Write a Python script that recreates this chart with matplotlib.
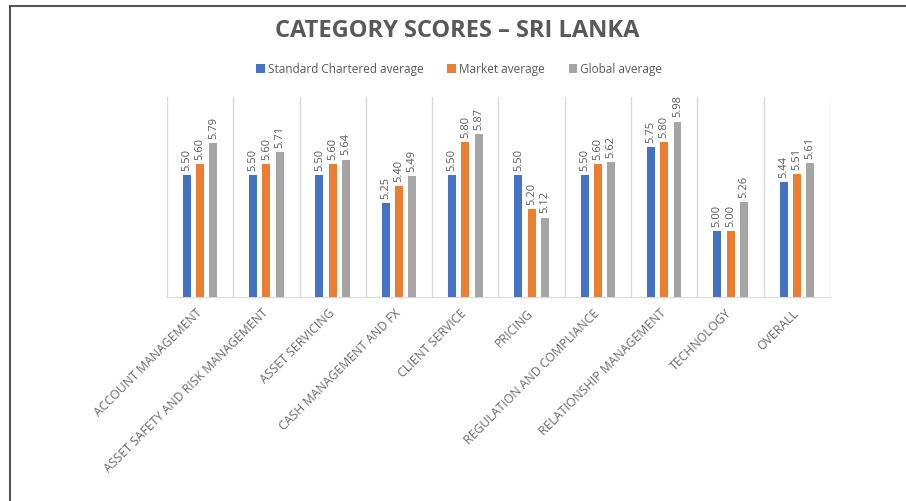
import matplotlib.pyplot as plt
import numpy as np
from matplotlib.lines import Line2D
from matplotlib.transforms import ScaledTranslation

# Category scores - Sri Lanka
categories = ['ACCOUNT MANAGEMENT', 'ASSET SAFETY AND RISK MANAGEMENT', 'ASSET SERVICING',
              'CASH MANAGEMENT AND FX', 'CLIENT SERVICE', 'PRICING',
              'REGULATION AND COMPLIANCE', 'RELATIONSHIP MANAGEMENT', 'TECHNOLOGY', 'OVERALL']
sc_avg = [5.50, 5.50, 5.50, 5.25, 5.50, 5.50, 5.50, 5.75, 5.00, 5.44]
market_avg = [5.60, 5.60, 5.60, 5.40, 5.80, 5.20, 5.60, 5.80, 5.00, 5.51]
global_avg = [5.79, 5.71, 5.64, 5.49, 5.87, 5.12, 5.62, 5.98, 5.26, 5.61]

series = [('Standard Chartered average', sc_avg, '#4472C4'),
          ('Market average', market_avg, '#ED7D31'),
          ('Global average', global_avg, '#A5A5A5')]

plt.rcParams['font.family'] = ['Open Sans', 'DejaVu Sans']

fig = plt.figure(figsize=(9.06, 5.01), dpi=100)
ax = fig.add_axes([0.1843, 0.4072, 0.7318, 0.3992])

x = np.arange(len(categories))
offsets = [-0.2, 0.0, 0.2]
width = 0.12
for (name, vals, col), off in zip(series, offsets):
    bars = ax.bar(x + off, vals, width, color=col, label=name, zorder=3)
    for b, v in zip(bars, vals):
        ax.annotate(f'{v:.2f}', (b.get_x() + b.get_width() / 2, v),
                    xytext=(0, 3), textcoords='offset points',
                    rotation=90, ha='center', va='bottom',
                    fontsize=8, color='#595959')

ax.set_xlim(-0.5, len(categories) - 0.5)
ax.set_ylim(4.41, 6.2)

# category separators
for b in np.arange(-0.5, len(categories), 1.0):
    ax.axvline(b, color='#D9D9D9', lw=1, zorder=1)

for s in ['top', 'right', 'left']:
    ax.spines[s].set_visible(False)
ax.spines['bottom'].set_color('#D9D9D9')
ax.set_yticks([])
ax.set_xticks(x)
ax.set_xticklabels(categories, rotation=45, ha='right', rotation_mode='anchor',
                   fontsize=8.8, color='#6a6a6a')
ax.tick_params(axis='x', length=0, pad=7)
shift = ScaledTranslation(-5 / 100, 0, fig.dpi_scale_trans)
for lbl in ax.get_xticklabels():
    lbl.set_transform(lbl.get_transform() + shift)

fig.text(0.505, 0.938, 'CATEGORY SCORES \u2013 SRI LANKA', ha='center', va='center',
         fontsize=17, fontweight='bold', color='#595959')
fig.legend(loc='center', bbox_to_anchor=(0.507, 0.862), ncol=3, frameon=False,
           fontsize=8.5, handlelength=0.7, handleheight=0.7, handletextpad=0.3,
           columnspacing=2.0, labelcolor='#595959')

# frame lines (top and left)
fig.add_artist(Line2D([0.011, 0.011], [0.0, 0.988], color='#555555', lw=1.5,
                      transform=fig.transFigure))
fig.add_artist(Line2D([0.011, 1.0], [0.988, 0.988], color='#555555', lw=1.5,
                      transform=fig.transFigure))

fig.savefig('out.png', dpi=100)
